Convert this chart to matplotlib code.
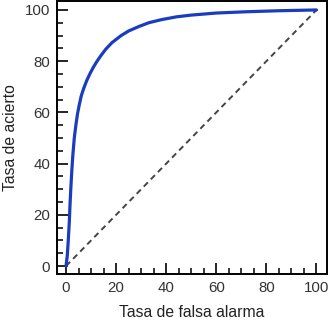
"""
ROC 曲线复刻：Tasa de acierto vs Tasa de falsa alarma
"""

import matplotlib
matplotlib.use("Agg")
import matplotlib.pyplot as plt
from matplotlib.ticker import MultipleLocator

# 读图估计的曲线点
fpr = [0, 0.25, 0.5, 0.9, 1.3, 1.6, 1.9, 2.3, 2.7, 3.3, 4.0, 4.6, 5.3, 6.1, 7.1,
       8.3, 9.6, 10.9, 12.2, 13.8, 15.8, 18.3, 22, 25, 29, 33, 38, 44, 50, 60, 72, 85, 100]
tpr = [0, 2, 4, 10, 17, 24, 30, 37, 43, 50, 55.5, 59.5, 63, 66.5, 69.5,
       72.5, 75.2, 77.6, 79.7, 82, 84.6, 87.2, 90, 91.8, 93.5, 95, 96.2, 97.3, 98, 98.8, 99.3, 99.7, 100]
chance = [0, 100]
ticks = [0, 20, 40, 60, 80, 100]

plt.rcParams["font.family"] = ["Liberation Sans", "DejaVu Sans"]

fig = plt.figure(figsize=(3.28, 3.21), dpi=100)
ax = fig.add_axes([57 / 328, 47 / 321, 270 / 328, 273 / 321])

ax.plot(chance, chance, color="#444444", lw=1.4, linestyle=(0, (3, 2.2)))
ax.plot(fpr, tpr, color="#1a3cbf", lw=2.3, solid_capstyle="round",
        solid_joinstyle="round")

ax.set_xlim(-3.6, 104.2)
ax.set_ylim(-3.1, 103.5)
ax.set_xticks(ticks)
ax.set_yticks(ticks)
ax.xaxis.set_minor_locator(MultipleLocator(5))
ax.yaxis.set_minor_locator(MultipleLocator(5))
ax.tick_params(which="major", direction="in", length=8, width=1.2,
               labelsize=10.8, labelcolor="#333333", pad=5)
ax.tick_params(which="minor", direction="in", length=4.5, width=1.1)
for s in ax.spines.values():
    s.set_linewidth(1.4)

ax.set_xlabel("Tasa de falsa alarma", fontsize=11.3, color="#222222", labelpad=7)
ax.set_ylabel("Tasa de acierto", fontsize=11.3, color="#222222", labelpad=5)

fig.savefig("out.png", dpi=100)
